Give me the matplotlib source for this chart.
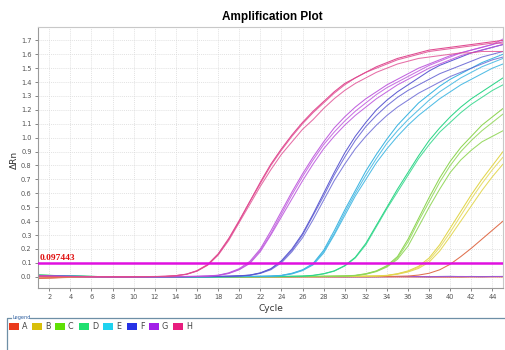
import numpy as np
import matplotlib
matplotlib.use("Agg")
import matplotlib.pyplot as plt
from matplotlib.patches import Rectangle
from matplotlib.lines import Line2D

# ---------------- data (ΔRn per cycle, cycles 1..45) ----------------
cycles = list(range(1, 46))
threshold = 0.097443
group_labels = ["A", "B", "C", "D", "E", "F", "G", "H"]

H1 = [0.004, 0.003, 0.002, 0.002, 0.001, 0.001, 0.000, 0.000, -0.001, 0.000, 0.000, 0.001, 0.003,
      0.008, 0.018, 0.042, 0.085, 0.16, 0.27, 0.40, 0.54, 0.68, 0.81, 0.92, 1.02, 1.11, 1.19, 1.26,
      1.33, 1.39, 1.43, 1.47, 1.51, 1.54, 1.57, 1.59, 1.61, 1.63, 1.64, 1.65, 1.66, 1.67, 1.68, 1.69, 1.70]
H2 = [0.002, 0.002, 0.001, 0.001, 0.000, 0.000, 0.000, -0.001, 0.000, 0.000, 0.001, 0.001, 0.003,
      0.007, 0.017, 0.040, 0.082, 0.155, 0.26, 0.39, 0.52, 0.65, 0.77, 0.88, 0.97, 1.06, 1.13, 1.21,
      1.28, 1.34, 1.39, 1.43, 1.47, 1.50, 1.53, 1.55, 1.57, 1.58, 1.59, 1.60, 1.61, 1.61, 1.62, 1.62, 1.62]
H3 = [0.003, 0.002, 0.002, 0.001, 0.001, 0.000, 0.000, 0.000, 0.000, 0.000, 0.001, 0.002, 0.003,
      0.008, 0.019, 0.044, 0.088, 0.165, 0.275, 0.405, 0.54, 0.67, 0.80, 0.91, 1.01, 1.10, 1.18, 1.25,
      1.32, 1.38, 1.43, 1.47, 1.50, 1.53, 1.56, 1.58, 1.60, 1.62, 1.63, 1.64, 1.65, 1.66, 1.67, 1.68, 1.68]

G1 = [0.006, 0.004, 0.003, 0.002, 0.001, 0.001, 0.000, 0.000, 0.000, -0.001, 0.000, 0.000, 0.000, 0.001, 0.002, 0.003, 0.006,
      0.011, 0.028, 0.058, 0.11, 0.20, 0.33, 0.47, 0.61, 0.74, 0.86, 0.97, 1.07, 1.15, 1.22, 1.28, 1.33,
      1.38, 1.42, 1.46, 1.50, 1.53, 1.56, 1.59, 1.61, 1.63, 1.65, 1.67, 1.69]
G2 = [0.005, 0.004, 0.002, 0.002, 0.001, 0.000, 0.000, 0.000, -0.001, 0.000, 0.000, 0.000, 0.001, 0.001, 0.002, 0.003, 0.005,
      0.010, 0.025, 0.053, 0.10, 0.19, 0.31, 0.45, 0.59, 0.72, 0.84, 0.95, 1.04, 1.12, 1.19, 1.25, 1.31,
      1.36, 1.40, 1.44, 1.48, 1.52, 1.55, 1.58, 1.61, 1.63, 1.65, 1.67, 1.71]
G3 = [0.004, 0.003, 0.002, 0.001, 0.001, 0.000, 0.000, -0.001, 0.000, 0.000, 0.000, 0.000, 0.000, 0.001, 0.001, 0.002, 0.004,
      0.009, 0.023, 0.050, 0.095, 0.18, 0.30, 0.43, 0.56, 0.69, 0.81, 0.92, 1.01, 1.09, 1.16, 1.22, 1.28,
      1.33, 1.38, 1.42, 1.46, 1.50, 1.53, 1.56, 1.59, 1.61, 1.63, 1.65, 1.67]

F1 = [0.008, 0.006, 0.004, 0.003, 0.002, 0.001, 0.001, 0.000, 0.000, 0.000, -0.001, 0.000, 0.000, 0.000, 0.000, 0.001, 0.001, 0.002, 0.004, 0.007,
      0.012, 0.028, 0.058, 0.115, 0.20, 0.31, 0.45, 0.60, 0.75, 0.89, 1.01, 1.11, 1.20, 1.27, 1.33,
      1.38, 1.43, 1.48, 1.52, 1.55, 1.58, 1.61, 1.63, 1.65, 1.67]
F2 = [0.007, 0.005, 0.004, 0.002, 0.002, 0.001, 0.000, 0.000, 0.000, -0.001, 0.000, 0.000, 0.000, 0.000, 0.001, 0.001, 0.001, 0.002, 0.004, 0.006,
      0.011, 0.026, 0.055, 0.11, 0.19, 0.30, 0.44, 0.58, 0.73, 0.86, 0.98, 1.08, 1.16, 1.23, 1.29,
      1.34, 1.38, 1.42, 1.46, 1.49, 1.52, 1.55, 1.58, 1.60, 1.62]
F3 = [0.006, 0.004, 0.003, 0.002, 0.001, 0.001, 0.000, 0.000, -0.001, 0.000, 0.000, 0.000, 0.000, 0.000, 0.000, 0.001, 0.001, 0.002, 0.003, 0.006,
      0.010, 0.024, 0.050, 0.10, 0.18, 0.28, 0.41, 0.55, 0.69, 0.81, 0.92, 1.01, 1.09, 1.16, 1.22,
      1.27, 1.32, 1.36, 1.40, 1.44, 1.47, 1.50, 1.53, 1.56, 1.58]

E1 = [0.010, 0.008, 0.006, 0.004, 0.003, 0.002, 0.001, 0.001, 0.000, 0.000, 0.000, -0.001, 0.000, 0.000, 0.000, 0.000, 0.000, 0.001, 0.001, 0.002, 0.002, 0.003, 0.005,
      0.010, 0.025, 0.050, 0.095, 0.19, 0.33, 0.48, 0.62, 0.76, 0.88, 0.99, 1.09, 1.17, 1.25,
      1.31, 1.37, 1.42, 1.46, 1.50, 1.54, 1.57, 1.60]
E2 = [0.009, 0.007, 0.005, 0.004, 0.002, 0.002, 0.001, 0.000, 0.000, 0.000, -0.001, 0.000, 0.000, 0.000, 0.000, 0.000, 0.001, 0.001, 0.001, 0.002, 0.002, 0.003, 0.004,
      0.009, 0.023, 0.047, 0.090, 0.18, 0.31, 0.46, 0.60, 0.73, 0.85, 0.96, 1.05, 1.13, 1.20,
      1.27, 1.33, 1.38, 1.43, 1.47, 1.51, 1.54, 1.57]
E3 = [0.008, 0.006, 0.005, 0.003, 0.002, 0.001, 0.001, 0.000, 0.000, -0.001, 0.000, 0.000, 0.000, 0.000, 0.000, 0.000, 0.000, 0.001, 0.001, 0.001, 0.002, 0.003, 0.004,
      0.008, 0.020, 0.044, 0.085, 0.17, 0.30, 0.44, 0.58, 0.70, 0.82, 0.92, 1.01, 1.09, 1.16,
      1.22, 1.28, 1.33, 1.38, 1.42, 1.46, 1.50, 1.53]

D1 = [0.012, 0.010, 0.007, 0.005, 0.003, 0.002, 0.001, 0.001, 0.000, 0.000, 0.000, -0.001, -0.001, 0.000, 0.000, 0.000, 0.000, 0.000, 0.000, 0.001, 0.001, 0.001, 0.002, 0.002, 0.003, 0.005,
      0.010, 0.022, 0.042, 0.080, 0.14, 0.24, 0.37, 0.50, 0.63, 0.75, 0.87, 0.98, 1.07, 1.15,
      1.22, 1.28, 1.33, 1.38, 1.43]
D2 = [0.011, 0.009, 0.006, 0.004, 0.003, 0.002, 0.001, 0.000, 0.000, 0.000, -0.001, -0.001, 0.000, 0.000, 0.000, -0.004, -0.005, -0.003, 0.000, 0.000, 0.001, 0.001, 0.001, 0.002, 0.003, 0.004,
      0.009, 0.020, 0.040, 0.077, 0.135, 0.23, 0.36, 0.49, 0.61, 0.73, 0.85, 0.95, 1.04, 1.11,
      1.18, 1.24, 1.29, 1.34, 1.38]

C1 = [0.012, 0.010, 0.008, 0.005, 0.004, 0.002, 0.001, 0.001, 0.000, 0.000, 0.000, 0.000, -0.001, 0.000, 0.000, 0.000, 0.000, 0.000, 0.000, 0.000,
      0.000, 0.001, 0.001, 0.001, 0.001, 0.002, 0.002, 0.003, 0.004, 0.006,
      0.010, 0.022, 0.042, 0.080, 0.145, 0.27, 0.42, 0.57, 0.71, 0.83, 0.93, 1.01, 1.09, 1.15, 1.21]
C2 = [0.011, 0.009, 0.007, 0.005, 0.003, 0.002, 0.001, 0.000, 0.000, 0.000, 0.000, -0.001, 0.000, 0.000, 0.000, 0.000, 0.000, 0.000, 0.000, 0.000,
      0.001, 0.001, 0.001, 0.001, 0.002, 0.002, 0.003, 0.003, 0.004, 0.005,
      0.009, 0.020, 0.040, 0.075, 0.135, 0.25, 0.40, 0.54, 0.68, 0.80, 0.90, 0.98, 1.05, 1.11, 1.17]
C3 = [0.010, 0.008, 0.006, 0.004, 0.003, 0.002, 0.001, 0.000, 0.000, 0.000, -0.001, 0.000, 0.000, 0.000, 0.000, 0.000, 0.000, 0.000, 0.000, 0.001,
      0.001, 0.001, 0.001, 0.001, 0.002, 0.002, 0.002, 0.003, 0.004, 0.005,
      0.008, 0.018, 0.037, 0.070, 0.125, 0.22, 0.36, 0.50, 0.63, 0.75, 0.84, 0.91, 0.97, 1.01, 1.05]

B1 = [0.004, 0.003, 0.002, 0.001, 0.001, 0.000, 0.000, 0.000, 0.000, 0.000, -0.001, -0.001, -0.002, -0.002, -0.002, -0.001, -0.001, -0.001, 0.000, 0.000,
      0.000, 0.000, 0.000, 0.000, 0.001, 0.001, 0.001, 0.001, 0.002, 0.002, 0.003, 0.004, 0.006,
      0.010, 0.022, 0.042, 0.075, 0.135, 0.23, 0.35, 0.47, 0.59, 0.70, 0.80, 0.90]
B2 = [0.003, 0.002, 0.002, 0.001, 0.000, 0.000, 0.000, 0.000, -0.001, -0.001, -0.002, -0.002, -0.003, -0.003, -0.002, -0.002, -0.001, -0.001, 0.000, 0.000,
      0.000, 0.000, 0.000, 0.001, 0.001, 0.001, 0.001, 0.002, 0.002, 0.002, 0.003, 0.004, 0.005,
      0.009, 0.020, 0.038, 0.068, 0.12, 0.21, 0.32, 0.44, 0.56, 0.67, 0.77, 0.86]
B3 = [0.002, 0.002, 0.001, 0.001, 0.000, 0.000, 0.000, -0.001, -0.001, -0.002, -0.002, -0.003, -0.003, -0.003, -0.002, -0.002, -0.001, 0.000, 0.000, 0.000,
      0.000, 0.000, 0.001, 0.001, 0.001, 0.001, 0.001, 0.002, 0.002, 0.002, 0.003, 0.004, 0.005,
      0.008, 0.018, 0.034, 0.060, 0.105, 0.185, 0.29, 0.40, 0.51, 0.62, 0.72, 0.81]

A1 = [-0.010, -0.008, -0.006, -0.004, -0.003, -0.002, -0.001, -0.001, 0.000, 0.000, 0.000, 0.000, 0.000, 0.000, 0.000, 0.000, -0.001, -0.001, -0.002, -0.002,
      -0.002, -0.002, -0.001, -0.001, -0.001, 0.000, 0.000, 0.000, 0.000, 0.000, 0.001, 0.001, 0.001, 0.002, 0.003,
      0.005, 0.012, 0.025, 0.050, 0.090, 0.145, 0.205, 0.27, 0.335, 0.40]

# non-amplifying wells
N1 = [-0.012, -0.010, -0.007, -0.005, -0.004, -0.003, -0.002, -0.001, -0.001, 0.000, 0.000, 0.000, 0.000, 0.000, 0.000, -0.001, -0.001, -0.002, -0.002, -0.002,
      -0.002, -0.001, -0.001, -0.001, 0.000, 0.000, 0.000, 0.000, 0.000, 0.000, 0.000, 0.000, 0.000, 0.000, 0.000,
      -0.001, -0.001, -0.001, -0.002, -0.002, -0.002, -0.001, -0.001, 0.000, 0.000]
N2 = [-0.008, -0.007, -0.005, -0.004, -0.003, -0.002, -0.001, -0.001, 0.000, 0.000, 0.000, 0.000, 0.000, -0.001, -0.001, -0.001, -0.001, -0.001, -0.001, -0.001,
      -0.001, 0.000, 0.000, 0.000, 0.000, 0.000, 0.000, 0.000, -0.001, -0.001, -0.001, -0.001, 0.000, 0.000, 0.000,
      0.000, 0.000, -0.001, -0.001, -0.001, -0.001, 0.000, 0.000, 0.000, -0.001]
N3 = [0.006, 0.005, 0.004, 0.003, 0.002, 0.001, 0.001, 0.000, 0.000, 0.000, 0.000, 0.000, 0.000, 0.000, 0.000, 0.000, 0.000, 0.000, 0.000, 0.000,
      0.000, 0.000, 0.000, 0.000, 0.000, 0.001, 0.001, 0.001, 0.001, 0.000, 0.000, 0.000, 0.000, 0.001, 0.002,
      0.002, 0.001, 0.000, 0.002, 0.003, 0.001, 0.002, 0.001, 0.002, 0.002]
N4 = [0.004, 0.003, 0.003, 0.002, 0.001, 0.001, 0.000, 0.000, 0.000, 0.000, -0.001, -0.001, 0.000, 0.000, 0.000, 0.000, 0.000, 0.000, 0.000, 0.000,
      0.000, 0.000, 0.000, 0.000, 0.000, 0.000, 0.000, 0.000, 0.000, 0.000, 0.000, 0.000, 0.000, 0.000, 0.000,
      0.001, 0.001, 0.000, 0.000, 0.001, 0.002, 0.001, 0.000, 0.001, 0.002]

# ---------------- styling ----------------
line_colors = {"A": "#e0704e", "B": "#e2d64c", "C": "#8fd655", "D": "#2fd689",
               "E": "#3fb6e2", "F": "#5856d0", "G": "#bb52dc", "H": "#e04a90"}
swatch_colors = {"A": "#ea3a1c", "B": "#d8bf0a", "C": "#5fe004", "D": "#1fe070",
                 "E": "#1fd2ef", "F": "#2632e6", "G": "#a21fe8", "H": "#e81d7e"}

curves = [
    ("N1", N1, "A", 1.0), ("N2", N2, "A", 0.8), ("N3", N3, "F", 0.8), ("N4", N4, "G", 0.7),
    ("A1", A1, "A", 1.0),
    ("B1", B1, "B", 1.0), ("B2", B2, "B", 0.8), ("B3", B3, "B", 0.9),
    ("C1", C1, "C", 1.0), ("C2", C2, "C", 0.85), ("C3", C3, "C", 0.9),
    ("D1", D1, "D", 1.0), ("D2", D2, "D", 0.85),
    ("E1", E1, "E", 1.0), ("E2", E2, "E", 0.85), ("E3", E3, "E", 0.9),
    ("F1", F1, "F", 0.95), ("F2", F2, "F", 0.8), ("F3", F3, "F", 0.75),
    ("G1", G1, "G", 0.9), ("G2", G2, "G", 0.8), ("G3", G3, "G", 0.85),
    ("H1", H1, "H", 1.0), ("H2", H2, "H", 0.8), ("H3", H3, "H", 0.85),
]

W, Hh = 506, 350
fig = plt.figure(figsize=(W / 100, Hh / 100), dpi=100)
fig.patch.set_facecolor("white")

ax = fig.add_axes([38 / W, 1 - 288 / Hh, (503 - 38) / W, (288 - 27) / Hh])
for name, vals, grp, a in curves:
    ax.plot(cycles[:len(vals)], vals, color=line_colors[grp], lw=0.75, alpha=a, solid_capstyle="round")

ax.axhline(threshold, color="#e010e0", lw=1.8, zorder=5)
ax.text(1.05, threshold + 0.006, f"{threshold:.6f}".rstrip("0"), color="#e01010",
        family="Liberation Serif", fontsize=6.8, fontweight="bold", va="bottom", ha="left", zorder=6)

ax.set_xlim(0.93, 45.0)
ax.set_ylim(-0.081, 1.796)
ax.set_xticks(range(2, 45, 2))
ax.set_yticks(np.round(np.arange(0.0, 1.71, 0.1), 1))
ax.set_yticklabels([f"{v:.1f}" for v in np.arange(0.0, 1.71, 0.1)])
ax.tick_params(axis="both", labelsize=4.8, colors="#555555", length=2, width=0.5, pad=2.5)
ax.grid(True, color="#d8d8d8", lw=0.5, ls=(0, (1.5, 1.5)))
for s in ["top", "right"]:
    ax.spines[s].set_color("#c8c8c8")
    ax.spines[s].set_linewidth(0.8)
for s in ["left", "bottom"]:
    ax.spines[s].set_color("#9a9a9a")
    ax.spines[s].set_linewidth(0.8)

ax.set_xlabel("Cycle", fontsize=6.5, color="#333333", family="DejaVu Sans", labelpad=3)
ax.set_ylabel("ΔRn", fontsize=6.5, color="#333333", family="DejaVu Sans")
ax.yaxis.set_label_coords((19 - 38) / 465, 0.49)
fig.text(272 / W, 1 - 17 / Hh, "Amplification Plot", ha="center", va="center",
         fontsize=8.5, fontweight="bold", family="Liberation Sans")

# ---------------- legend panel ----------------
lax = fig.add_axes([0, 0, 1, 1], facecolor="none")
lax.set_xlim(0, W)
lax.set_ylim(Hh, 0)
lax.axis("off")
lax.add_line(Line2D([7, 7, 11], [350, 318, 318], color="#6e8fa6", lw=0.9))
lax.add_line(Line2D([30, 506], [318, 318], color="#6e8fa6", lw=0.9))
lax.text(13, 318, "Legend", fontsize=3.6, color="#3060a0", va="center", ha="left")
sw_x = [9, 32, 55, 79, 103, 127, 149, 173]
for lab, x0 in zip(group_labels, sw_x):
    lax.add_patch(Rectangle((x0, 323), 10, 7, facecolor=swatch_colors[lab], edgecolor="none"))
    lax.text(x0 + 13, 326.8, lab, fontsize=5.8, color="#444444", va="center", ha="left")

fig.savefig("out.png", dpi=100)
